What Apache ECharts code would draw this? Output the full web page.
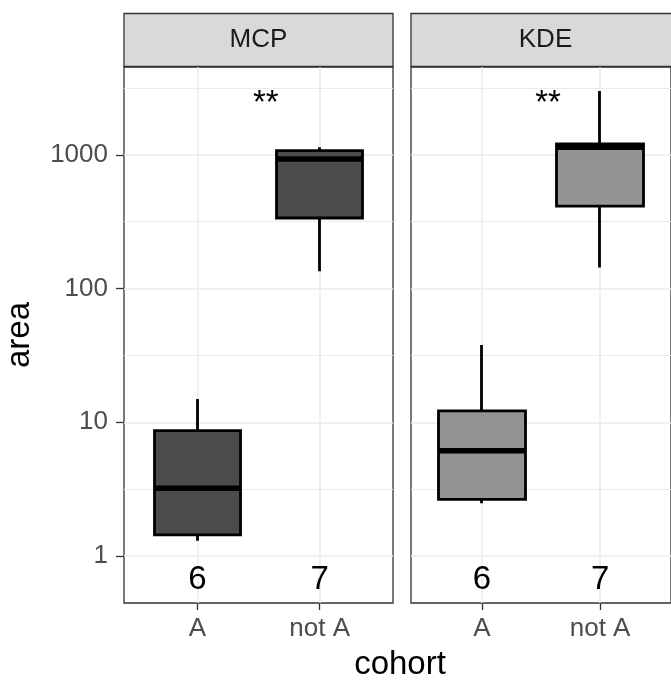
<!DOCTYPE html>
<html>
<head>
<meta charset="utf-8">
<script src="https://cdn.jsdelivr.net/npm/echarts@6/dist/echarts.min.js"></script>
<style>
html,body{margin:0;padding:0;background:#fff;}
#chart{width:671px;height:682px;}
</style>
</head>
<body>
<div id="chart"></div>
<script>
// ---- data ----
const categories = ['A', 'not A'];
const panels = ['MCP', 'KDE'];
// [min, Q1, median, Q3, max] per cohort
const mcpBoxes = [[1.30, 1.44, 3.21, 8.65, 14.9], [135, 337, 932, 1075, 1140]];
const kdeBoxes = [[2.48, 2.65, 6.13, 12.15, 37.9], [143.6, 413, 1140, 1206, 3006]];
const counts = [6, 7];
const signifLabel = '**';
const signifPos = [1.56, 2404];
const countY = 0.66;
const yTicks = [1, 10, 100, 1000];
const yTickLabels = ['1', '10', '100', '1000'];
const yMinor = [3.162, 31.62, 316.2, 3162];
const fills = ['#4b4b4b', '#939393'];

// ---- layout ----
const FONT = '"Liberation Sans", Arial, sans-serif';
const panelLeft = [124, 411];
const panelW = 269, panelTop = 67, panelBottom = 603;
const chart = echarts.init(document.getElementById('chart'), null, {renderer: 'canvas'});

const grids = [], xAxes = [], yAxes = [], series = [], graphics = [];
[mcpBoxes, kdeBoxes].forEach((boxes, p) => {
  grids.push({left: panelLeft[p], width: panelW, top: panelTop, height: panelBottom - panelTop,
    show: true, backgroundColor: '#fff', borderColor: '#333', borderWidth: 1.3, containLabel: false});
  xAxes.push({type: 'value', gridIndex: p, min: 0.4, max: 2.6,
    axisLine: {show: false}, splitLine: {show: false},
    axisTick: {show: true, customValues: [1, 2], length: 7, lineStyle: {color: '#333', width: 1.3}},
    axisLabel: {show: true, customValues: [1, 2], formatter: v => categories[Math.round(v) - 1],
      color: '#4d4d4d', fontSize: 26, fontFamily: FONT, margin: 13}});
  yAxes.push({type: 'log', logBase: 10, gridIndex: p, min: 0.445, max: 4540,
    name: p === 0 ? 'area' : '', nameLocation: 'middle', nameGap: 88, nameRotate: 90,
    nameTextStyle: {color: '#000', fontSize: 33, fontFamily: FONT},
    axisLine: {show: false}, splitLine: {show: false}, minorSplitLine: {show: false},
    axisTick: {show: p === 0, customValues: yTicks, length: 8, lineStyle: {color: '#333', width: 1.3}},
    axisLabel: {show: p === 0, customValues: yTicks,
      formatter: v => yTickLabels[Math.round(Math.log10(v))],
      color: '#4d4d4d', fontSize: 26, fontFamily: FONT, margin: 16}});
  // gridlines
  series.push({type: 'line', xAxisIndex: p, yAxisIndex: p, data: [], silent: true, z: 1,
    markLine: {silent: true, symbol: 'none', z: 1, label: {show: false}, animation: false,
      lineStyle: {color: '#ebebeb', type: 'solid', width: 1.6},
      data: yMinor.map(v => ({yAxis: v, lineStyle: {width: 1, color: '#ebebeb', type: 'solid'}}))
        .concat(yTicks.map(v => ({yAxis: v})))
        .concat([1, 2].map(v => ({xAxis: v})))}});
  // boxes (Q1..Q3 with whiskers)
  series.push({type: 'candlestick', xAxisIndex: p, yAxisIndex: p, z: 3, barWidth: 87, silent: true,
    itemStyle: {color: fills[p], color0: fills[p], borderColor: '#000', borderColor0: '#000', borderWidth: 2.8},
    data: boxes.map((b, i) => [i + 1, b[1], b[3], b[0], b[4]])});
  // medians
  series.push({type: 'scatter', xAxisIndex: p, yAxisIndex: p, z: 4, silent: true,
    symbol: 'rect', symbolSize: [87, 5.5], itemStyle: {color: '#000', opacity: 1},
    data: boxes.map((b, i) => [i + 1, b[2]])});
  // counts
  series.push({type: 'scatter', xAxisIndex: p, yAxisIndex: p, z: 5, silent: true, symbolSize: 0,
    itemStyle: {opacity: 1},
    label: {show: true, position: 'inside', formatter: d => String(d.value[2]),
      color: '#000', fontSize: 33, fontFamily: FONT},
    data: counts.map((c, i) => [i + 1, countY, c])});
  // significance
  series.push({type: 'scatter', xAxisIndex: p, yAxisIndex: p, z: 5, silent: true, symbolSize: 0,
    itemStyle: {opacity: 1},
    label: {show: true, position: 'inside', formatter: signifLabel,
      color: '#000', fontSize: 33, fontFamily: FONT},
    data: [signifPos]});
  // strip
  graphics.push({type: 'rect', shape: {x: panelLeft[p], y: 13.5, width: panelW, height: 53},
    style: {fill: '#d9d9d9', stroke: '#333', lineWidth: 1.3}, z: 10});
  graphics.push({type: 'text', x: panelLeft[p] + panelW / 2, y: 40, z: 11,
    style: {text: panels[p], textAlign: 'center', textVerticalAlign: 'middle',
      font: '26px ' + FONT, fill: '#1a1a1a'}});
});
graphics.push({type: 'text', x: 400, y: 665, z: 11,
  style: {text: 'cohort', textAlign: 'center', textVerticalAlign: 'middle',
    font: '33px ' + FONT, fill: '#000'}});

chart.setOption({
  animation: false,
  backgroundColor: '#fff',
  grid: grids, xAxis: xAxes, yAxis: yAxes, series: series, graphic: graphics
});
</script>
</body>
</html>
